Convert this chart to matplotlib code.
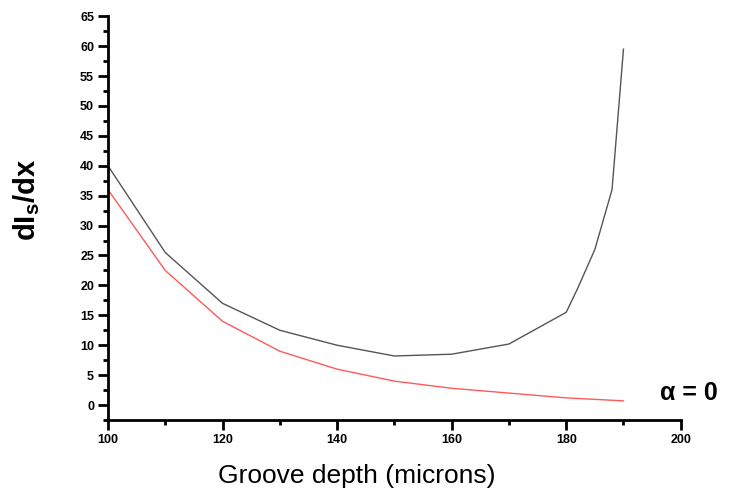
import numpy as np
import matplotlib.pyplot as plt
from matplotlib.ticker import MultipleLocator

# groove depth (microns) and dIs/dx curves
depth_black = [100, 110, 120, 130, 140, 150, 160, 170, 180, 182, 185, 188, 190]
dis_black = [40, 25.5, 17, 12.5, 10, 8.2, 8.5, 10.2, 15.5, 19.5, 26, 36, 59.5]
depth_red = [100, 110, 120, 130, 140, 150, 160, 170, 180, 190]
dis_red = [36, 22.5, 14, 9, 6, 4, 2.8, 2, 1.2, 0.7]

fig = plt.figure(figsize=(7.32, 4.91), dpi=100)
ax = fig.add_axes([0.1475, 0.1446, 0.7825, 0.8224])

ax.plot(depth_black, dis_black, c='#555555', lw=1)
ax.plot(depth_red, dis_red, c='#ff5a5a', lw=1)

ax.set_xlim(100, 200)
ax.set_ylim(-2.5, 65)
ax.xaxis.set_major_locator(MultipleLocator(20))
ax.xaxis.set_minor_locator(MultipleLocator(10))
ax.yaxis.set_major_locator(MultipleLocator(5))
ax.yaxis.set_minor_locator(MultipleLocator(2.5))

for s in ['top', 'right']:
    ax.spines[s].set_visible(False)
for s in ['left', 'bottom']:
    ax.spines[s].set_linewidth(2)
ax.tick_params(which='major', direction='out', length=7, width=2, labelsize=9, pad=3)
ax.tick_params(which='minor', direction='out', length=3.6, width=2)
for lab in ax.get_xticklabels() + ax.get_yticklabels():
    lab.set_fontweight('bold')
    lab.set_family('Liberation Sans')

# axis titles placed as figure text
fig.text(0.488, 0.031, 'Groove depth (microns)', fontsize=19,
         family='Liberation Sans', ha='center', va='center')
fig.text(0.037, 0.593, r'dI$_\mathregular{s}$/dx', fontsize=21, fontweight='bold',
         family='Liberation Sans', ha='center', va='center', rotation=90)
fig.text(0.9016, 0.1996, 'α = 0', fontsize=18, fontweight='bold',
         family='Liberation Sans', va='center')

fig.savefig('out.png', dpi=100)
